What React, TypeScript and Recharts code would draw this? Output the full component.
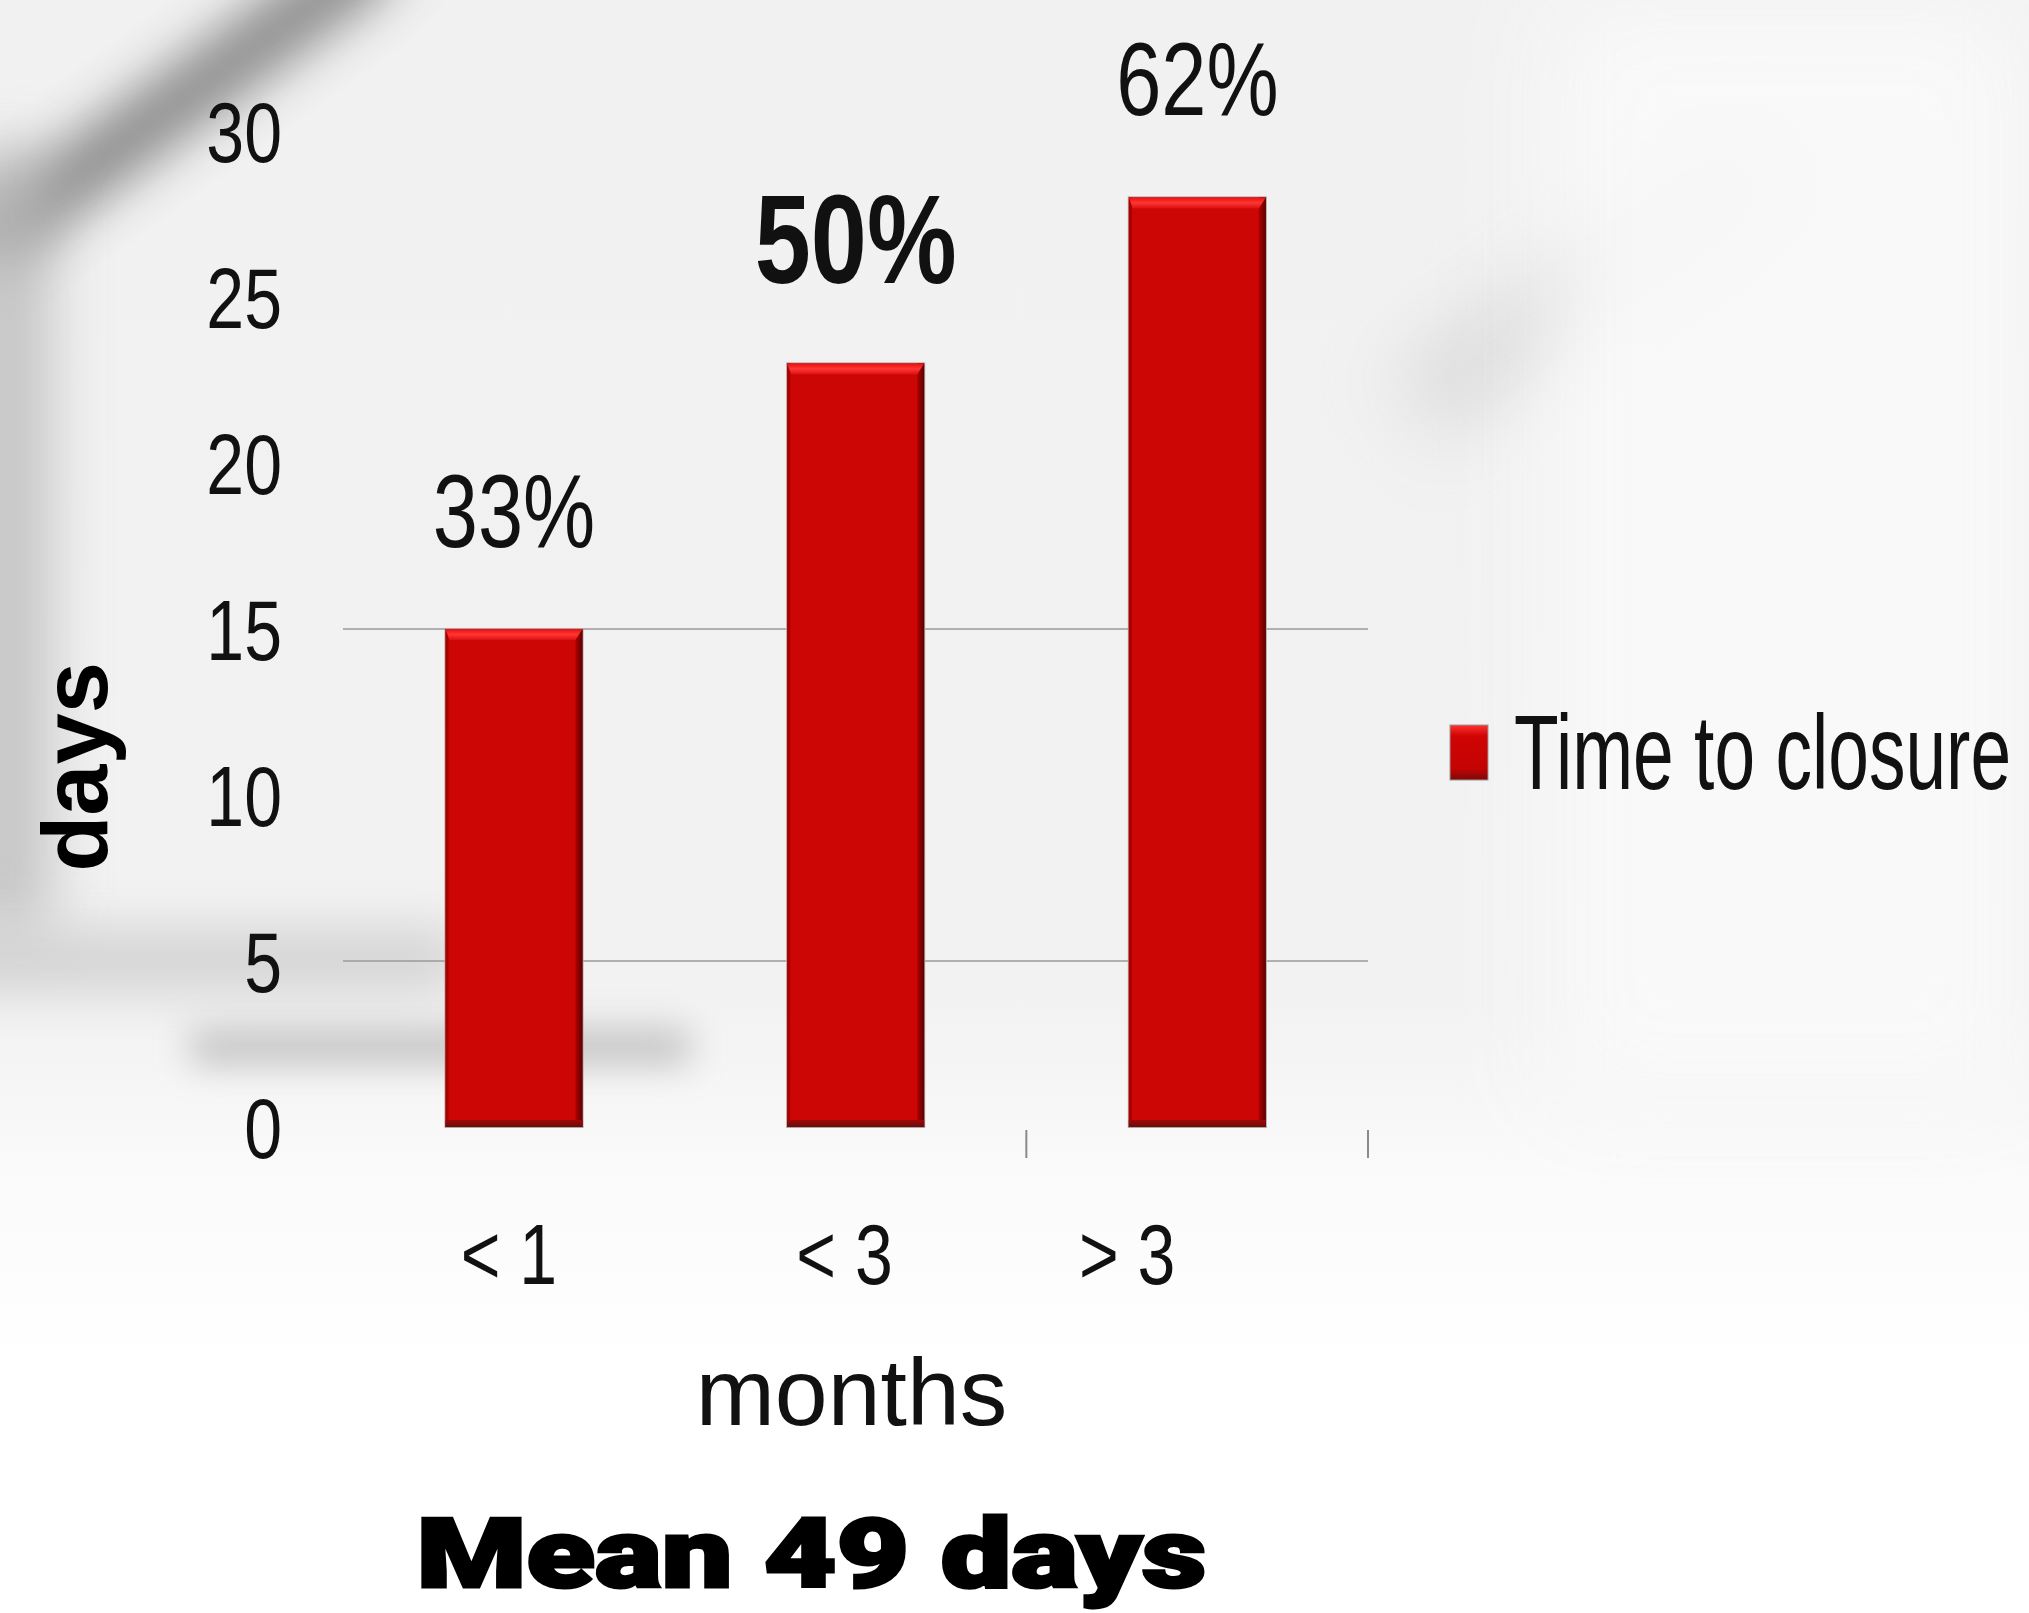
import React from 'react';
import { BarChart, Bar, XAxis, YAxis, CartesianGrid, Legend, LabelList, Label } from 'recharts';

// months since opening, and the mean days to closure in each group
const categories = ['< 1', '< 3', '> 3'];
const timeToClosure = [15, 23, 28];
const shareLabels = ['33%', '50%', '62%'];
const boldShare = [false, true, false];
const yTicks = [0, 5, 10, 15, 20, 25, 30];
const gridValues = [5, 15];

const data = categories.map((month, i) => ({
    month,
    days: timeToClosure[i],
    share: shareLabels[i],
}));

const FONT = '"Liberation Sans", Arial, Helvetica, sans-serif';
const X_LABEL_NUDGE = [-5, -11, -70];

const BevelBar = (props: any) => {
    const { x, y, width, height } = props;
    if (!height || height <= 0) return null;
    return (
        <g>
            <rect x={x - 1} y={y - 1} width={width + 2} height={height + 2} fill="#a8a8a8" />
            <rect x={x} y={y} width={width} height={height} fill="#cc0505" />
            <rect x={x} y={y} width={3} height={height} fill="#a90000" />
            <rect x={x + width - 7} y={y} width={7} height={height} fill="url(#edgeRight)" />
            <rect x={x} y={y + height - 7} width={width} height={7} fill="url(#edgeBottom)" />
            <polygon
                points={`${x},${y} ${x + width},${y} ${x + width - 7},${y + 11} ${x + 4},${y + 11}`}
                fill="url(#topBevel)"
            />
        </g>
    );
};

const YTick = ({ x, y, payload }: any) => (
    <text
        transform={`translate(${x},${y}) scale(0.8,1)`}
        textAnchor="end"
        dy="0.36em"
        fontSize={85}
        fontFamily={FONT}
        fill="#111"
    >
        {payload.value}
    </text>
);

const XTick = ({ x, y, payload, index }: any) => {
    const half = payload.offset || 170;
    return (
        <g>
            {index > 0 && (
                <line x1={x + half} x2={x + half} y1={y - 3} y2={y + 25} stroke="#8a8a8a" strokeWidth={2} />
            )}
            <text
                transform={`translate(${x + X_LABEL_NUDGE[index]},${y + 151}) scale(0.8,1)`}
                textAnchor="middle"
                fontSize={85}
                fontFamily={FONT}
                fill="#111"
                style={{ whiteSpace: 'pre' }}
            >
                {payload.value}
            </text>
        </g>
    );
};

const ShareLabel = (props: any) => {
    const { x, y, width, value } = props;
    const bold = boldShare[shareLabels.indexOf(value)];
    return (
        <text
            transform={`translate(${x + width / 2},${y - (bold ? 80 : 82)}) scale(${bold ? 0.8 : 0.78},1)`}
            textAnchor="middle"
            fontSize={bold ? 126 : 104}
            fontWeight={bold ? 700 : 400}
            fontFamily={FONT}
            fill="#111"
        >
            {value}
        </text>
    );
};

const renderLegend = () => (
    <svg width={575} height={110} style={{ overflow: 'visible' }}>
        <defs>
            <linearGradient id="legendFill" x1="0" y1="0" x2="0" y2="1">
                <stop offset="0" stopColor="#ff3030" />
                <stop offset="0.2" stopColor="#d00404" />
                <stop offset="0.8" stopColor="#c40303" />
                <stop offset="1" stopColor="#7a0a0a" />
            </linearGradient>
        </defs>
        <rect x={1} y={16} width={38} height={55} fill="url(#legendFill)" stroke="#999" strokeWidth={1} />
        <text transform="translate(65,80) scale(0.69,1)" fontSize={106} fontFamily={FONT} fill="#111">
            Time to closure
        </text>
    </svg>
);

export default function App() {
    return (
        <div
            style={{
                position: 'absolute',
                left: 0,
                top: 0,
                width: 2029,
                height: 1613,
                overflow: 'hidden',
                background: 'linear-gradient(180deg, #f1f1f1 0%, #f2f2f2 62%, #fbfbfb 74%, #ffffff 85%)',
            }}
        >
            {/* blurred backdrop strokes */}
            <div style={{ position: 'absolute', left: -70, top: 70, width: 500, height: 60, background: '#707070', filter: 'blur(26px)', transform: 'rotate(-36deg)', opacity: 0.85 }} />
            <div style={{ position: 'absolute', left: -40, top: 150, width: 90, height: 780, background: '#b8b8b8', filter: 'blur(30px)', opacity: 0.8 }} />
            <div style={{ position: 'absolute', left: 190, top: 1030, width: 500, height: 34, background: '#a4a4a4', filter: 'blur(18px)', opacity: 0.65 }} />
            <div style={{ position: 'absolute', left: -60, top: 930, width: 520, height: 60, background: '#c4c4c4', filter: 'blur(26px)', opacity: 0.7 }} />
            <div style={{ position: 'absolute', left: 1380, top: 250, width: 420, height: 70, background: '#cfcfcf', filter: 'blur(40px)', transform: 'rotate(-35deg)', opacity: 0.8 }} />
            <div style={{ position: 'absolute', left: 1550, top: 0, width: 479, height: 1100, background: '#fafafa', filter: 'blur(50px)', opacity: 0.9 }} />
            <div style={{ position: 'absolute', left: 0, top: 0 }}>
                <BarChart
                    width={2029}
                    height={1613}
                    data={data}
                    margin={{ top: 131, right: 661, bottom: 0, left: 0 }}
                    barCategoryGap="30%"
                >
                    <defs>
                        <linearGradient id="edgeRight" x1="0" y1="0" x2="1" y2="0">
                            <stop offset="0" stopColor="#b00000" />
                            <stop offset="1" stopColor="#5a0000" />
                        </linearGradient>
                        <linearGradient id="edgeBottom" x1="0" y1="0" x2="0" y2="1">
                            <stop offset="0" stopColor="#a00808" />
                            <stop offset="1" stopColor="#6a0a0a" />
                        </linearGradient>
                        <linearGradient id="topBevel" x1="0" y1="0" x2="0" y2="1">
                            <stop offset="0" stopColor="#e81010" />
                            <stop offset="0.5" stopColor="#ff3535" />
                            <stop offset="1" stopColor="#dd1010" />
                        </linearGradient>
                    </defs>
                    <CartesianGrid vertical={false} horizontalValues={gridValues} stroke="#9a9a9a" strokeWidth={1.5} />
                    <XAxis
                        dataKey="month"
                        height={486}
                        axisLine={false}
                        tickLine={false}
                        tickMargin={0}
                        interval={0}
                        tick={<XTick />}
                    >
                        <Label
                            content={(p: any) => {
                                const vb = p.viewBox || {};
                                return (
                                    <g>
                                        <text
                                            x={vb.x + vb.width / 2 - 4}
                                            y={vb.y + 298}
                                            textAnchor="middle"
                                            fontSize={95}
                                            fontFamily={FONT}
                                            fill="#111"
                                        >
                                            months
                                        </text>
                                        <text
                                            x={vb.x + vb.width / 2 - 44}
                                            y={vb.y + 460}
                                            textAnchor="middle"
                                            fontSize={96}
                                            fontWeight={900}
                                            fontFamily='Roboto, Lato, "Liberation Sans", sans-serif'
                                            fill="#000"
                                            stroke="#000"
                                            strokeWidth={3}
                                            textLength={790}
                                            lengthAdjust="spacingAndGlyphs"
                                        >
                                            Mean 49 days
                                        </text>
                                    </g>
                                );
                            }}
                        />
                    </XAxis>
                    <YAxis
                        width={343}
                        domain={[0, 30]}
                        ticks={yTicks}
                        interval={0}
                        axisLine={false}
                        tickLine={false}
                        tickMargin={55}
                        tick={<YTick />}
                    >
                        <Label
                            content={(p: any) => {
                                const vb = p.viewBox || {};
                                const cx = vb.x + 77;
                                const cy = vb.y + vb.height / 2 + 138;
                                return (
                                    <text
                                        transform={`translate(${cx},${cy}) rotate(-90)`}
                                        textAnchor="middle"
                                        dy="0.33em"
                                        fontSize={92}
                                        fontWeight={700}
                                        fontFamily={FONT}
                                        fill="#000"
                                    >
                                        days
                                    </text>
                                );
                            }}
                        />
                    </YAxis>
                    <Legend
                        layout="horizontal"
                        align="center"
                        verticalAlign="middle"
                        content={renderLegend}
                        wrapperStyle={{ position: 'absolute', left: 1449, top: 709, width: 575, height: 110 }}
                    />
                    <Bar dataKey="days" name="Time to closure" shape={<BevelBar />} isAnimationActive={false}>
                        <LabelList dataKey="share" content={<ShareLabel />} />
                    </Bar>
                </BarChart>
            </div>
        </div>
    );
}
